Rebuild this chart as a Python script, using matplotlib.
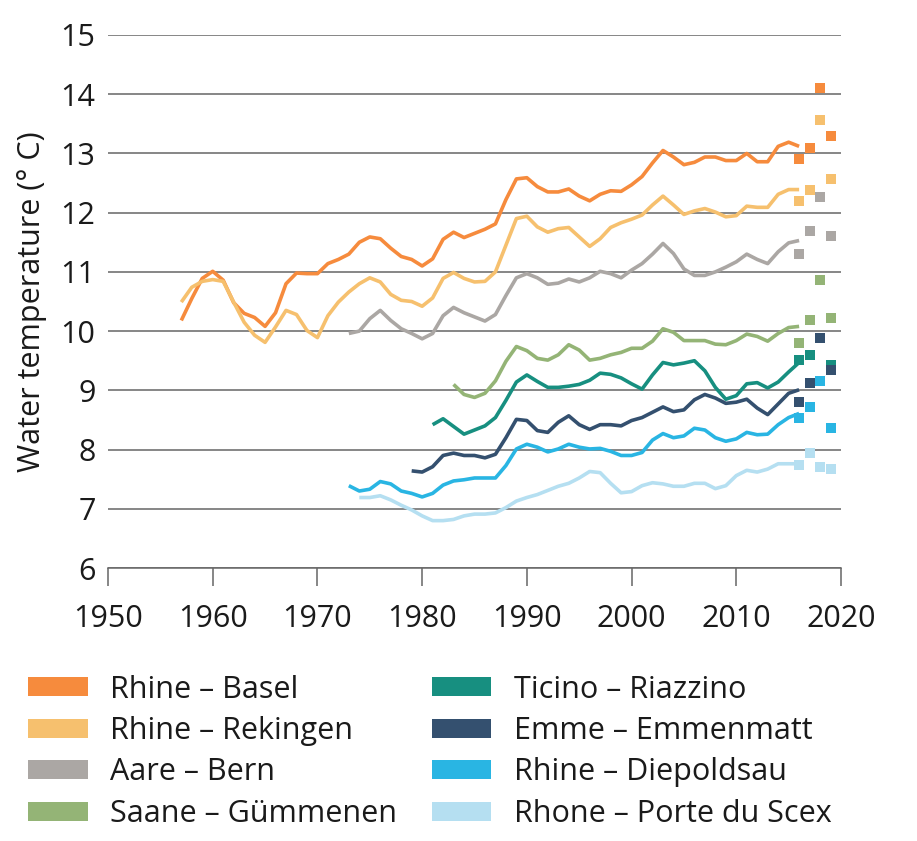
import matplotlib

matplotlib.use("Agg")
import matplotlib.pyplot as plt
import numpy as np
from matplotlib.patches import Patch

plt.rcParams["font.family"] = ["Open Sans", "DejaVu Sans"]

# 연도별 수온 (선: 시작연도 ~ 2016)
STATIONS = ["Rhine – Basel", "Rhine – Rekingen", "Aare – Bern", "Saane – Gümmenen",
            "Ticino – Riazzino", "Emme – Emmenmatt", "Rhine – Diepoldsau",
            "Rhone – Porte du Scex"]
COLORS = ["#F68B3D", "#F6C06E", "#ABA7A4", "#94B476",
          "#178F80", "#34506F", "#29B5E3", "#B5DFF1"]
START = [1957, 1957, 1973, 1983, 1981, 1979, 1973, 1974]
END_YEAR = 2016

basel = [10.18, 10.55, 10.89, 11.01, 10.86, 10.48, 10.30, 10.23, 10.08, 10.31,
         10.80, 10.98, 10.97, 10.97, 11.14, 11.21, 11.30, 11.50, 11.59, 11.56,
         11.40, 11.26, 11.21, 11.10, 11.22, 11.55, 11.67, 11.58, 11.65, 11.72,
         11.81, 12.22, 12.57, 12.59, 12.44, 12.35, 12.35, 12.40, 12.28, 12.20,
         12.31, 12.37, 12.36, 12.47, 12.61, 12.84, 13.05, 12.94, 12.81, 12.85,
         12.94, 12.94, 12.88, 12.88, 13.00, 12.86, 12.86, 13.12, 13.19, 13.12]
rekingen = [10.49, 10.74, 10.84, 10.87, 10.84, 10.49, 10.15, 9.93, 9.81, 10.07,
            10.35, 10.28, 10.01, 9.89, 10.26, 10.49, 10.66, 10.80, 10.90, 10.83,
            10.62, 10.52, 10.50, 10.42, 10.56, 10.89, 10.99, 10.89, 10.83, 10.84,
            11.00, 11.45, 11.90, 11.94, 11.76, 11.67, 11.73, 11.75, 11.59, 11.43,
            11.56, 11.75, 11.83, 11.89, 11.96, 12.13, 12.28, 12.13, 11.97, 12.03,
            12.07, 12.01, 11.93, 11.95, 12.11, 12.09, 12.09, 12.31, 12.39, 12.39]
bern = [9.96, 10.00, 10.21, 10.35, 10.18, 10.04, 9.96, 9.87, 9.96, 10.26,
        10.40, 10.31, 10.24, 10.17, 10.28, 10.60, 10.90, 10.97, 10.90, 10.79,
        10.81, 10.88, 10.83, 10.90, 11.01, 10.97, 10.90, 11.03, 11.14, 11.30,
        11.48, 11.31, 11.05, 10.94, 10.94, 11.00, 11.08, 11.17, 11.30, 11.21,
        11.14, 11.34, 11.49, 11.53]
guemmenen = [9.10, 8.93, 8.88, 8.95, 9.16, 9.49, 9.74, 9.67, 9.54, 9.51,
             9.60, 9.77, 9.68, 9.51, 9.54, 9.60, 9.64, 9.71, 9.71, 9.83,
             10.04, 9.98, 9.84, 9.84, 9.84, 9.78, 9.77, 9.84, 9.95, 9.91,
             9.83, 9.96, 10.06, 10.08]
riazzino = [8.42, 8.52, 8.39, 8.26, 8.33, 8.40, 8.54, 8.83, 9.14, 9.26,
            9.15, 9.05, 9.05, 9.07, 9.10, 9.17, 9.29, 9.27, 9.21, 9.11,
            9.02, 9.26, 9.47, 9.43, 9.46, 9.50, 9.33, 9.05, 8.85, 8.91,
            9.11, 9.13, 9.04, 9.14, 9.31, 9.47]
emmenmatt = [7.64, 7.62, 7.71, 7.90, 7.94, 7.90, 7.90, 7.86, 7.92, 8.20,
             8.51, 8.49, 8.32, 8.29, 8.46, 8.57, 8.42, 8.34, 8.42, 8.42,
             8.40, 8.49, 8.54, 8.63, 8.72, 8.64, 8.67, 8.84, 8.93, 8.87,
             8.78, 8.80, 8.85, 8.70, 8.59, 8.77, 8.95, 9.01]
diepoldsau = [7.39, 7.30, 7.33, 7.46, 7.42, 7.30, 7.26, 7.20, 7.26, 7.40,
              7.47, 7.49, 7.52, 7.52, 7.52, 7.73, 8.01, 8.09, 8.04, 7.96,
              8.01, 8.09, 8.04, 8.01, 8.02, 7.97, 7.90, 7.90, 7.95, 8.16,
              8.27, 8.20, 8.23, 8.36, 8.33, 8.20, 8.14, 8.18, 8.29, 8.25,
              8.26, 8.42, 8.54, 8.61]
scex = [7.19, 7.19, 7.22, 7.15, 7.06, 6.98, 6.88, 6.80, 6.80, 6.82,
        6.88, 6.91, 6.91, 6.93, 7.02, 7.13, 7.19, 7.24, 7.31, 7.38,
        7.43, 7.52, 7.63, 7.61, 7.43, 7.27, 7.29, 7.39, 7.44, 7.42,
        7.38, 7.38, 7.43, 7.43, 7.34, 7.39, 7.56, 7.65, 7.62, 7.67,
        7.76, 7.76, 7.76]
LINES = [basel, rekingen, bern, guemmenen, riazzino, emmenmatt, diepoldsau, scex]

# 단년 값 (사각 마커)
POINT_YEARS = [2016, 2017, 2018, 2019]
POINTS = [
    [12.90, 13.10, 14.10, 13.29],
    [12.19, 12.39, 13.57, 12.57],
    [11.30, 11.69, 12.26, 11.60],
    [9.80, 10.19, 10.86, 10.22],
    [9.52, 9.60, 9.89, 9.42],
    [8.81, 9.13, 9.89, 9.35],
    [8.53, 8.72, 9.15, 8.37],
    [7.74, 7.94, 7.70, 7.68],
]

GRID = "#666666"
INK = "#1a1a1a"
FS = 22

fig = plt.figure(figsize=(9.17, 8.41), dpi=100)
ax = fig.add_axes([108 / 917, 1 - 568 / 841, (841 - 108) / 917, (568 - 35) / 841])

for vals, start, col in zip(LINES, START, COLORS):
    yrs = np.arange(start, END_YEAR + 1)
    ax.plot(yrs, vals, color=col, lw=2.6, solid_capstyle="butt", zorder=3)
for pts, col in zip(POINTS, COLORS):
    ax.plot(POINT_YEARS, pts, ls="none", marker="s", ms=7.2, mew=0, color=col, zorder=4)

ax.set_xlim(1950, 2020)
ax.set_ylim(6, 15)
ax.set_xticks(range(1950, 2021, 10))
ax.set_yticks(range(6, 16))
ax.yaxis.grid(True, color=GRID, lw=1.1)
ax.set_axisbelow(True)
for s in ("left", "top", "right"):
    ax.spines[s].set_visible(False)
ax.spines["bottom"].set_color(GRID)
ax.spines["bottom"].set_linewidth(1.1)
ax.tick_params(axis="x", direction="out", length=13, width=1.1, color=GRID,
               pad=13, labelsize=FS, labelcolor=INK)
ax.tick_params(axis="y", length=0, pad=9, labelsize=FS, labelcolor=INK)
ax.set_ylabel("Water temperature (° C)", fontsize=FS, color=INK, labelpad=10)

handles = [Patch(facecolor=c, edgecolor="none") for c in COLORS]
fig.legend(handles, STATIONS, loc="upper left", bbox_to_anchor=(28 / 917, 1 - 674.5 / 841),
           ncol=2, frameon=False, fontsize=FS, handlelength=1.95, handleheight=0.58,
           handletextpad=0.73, columnspacing=1.14, labelspacing=0.376, borderpad=0,
           borderaxespad=0, labelcolor=INK)

fig.savefig("out.png", dpi=100)
